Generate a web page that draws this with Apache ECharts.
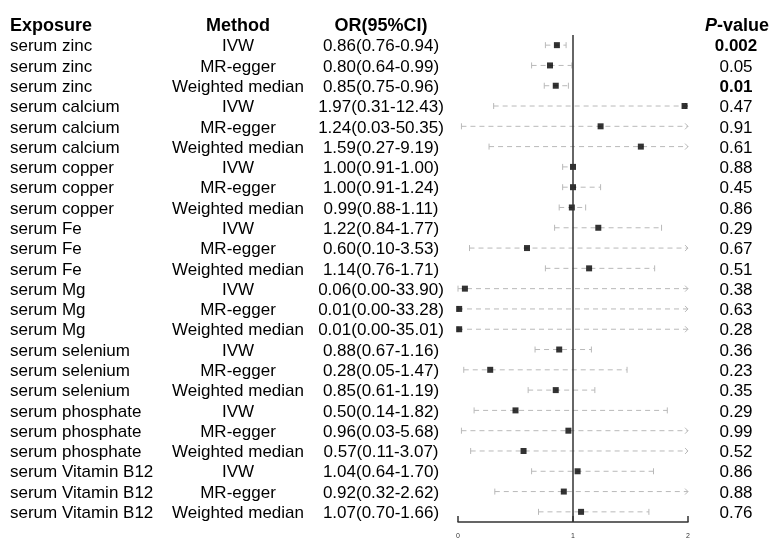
<!DOCTYPE html>
<html>
<head>
<meta charset="utf-8">
<script src="https://cdn.jsdelivr.net/npm/echarts@6/dist/echarts.min.js"></script>
<style>
  html, body { margin: 0; padding: 0; background: #fff; }
  #chart { width: 769px; height: 540px; }
</style>
</head>
<body>
<div id="chart"></div>
<script>
// table data, one entry per row (top to bottom)
const exposures = [
  'serum zinc', 'serum zinc', 'serum zinc',
  'serum calcium', 'serum calcium', 'serum calcium',
  'serum copper', 'serum copper', 'serum copper',
  'serum Fe', 'serum Fe', 'serum Fe',
  'serum Mg', 'serum Mg', 'serum Mg',
  'serum selenium', 'serum selenium', 'serum selenium',
  'serum phosphate', 'serum phosphate', 'serum phosphate',
  'serum Vitamin B12', 'serum Vitamin B12', 'serum Vitamin B12'
]
const methods = [
  'IVW', 'MR-egger', 'Weighted median',
  'IVW', 'MR-egger', 'Weighted median',
  'IVW', 'MR-egger', 'Weighted median',
  'IVW', 'MR-egger', 'Weighted median',
  'IVW', 'MR-egger', 'Weighted median',
  'IVW', 'MR-egger', 'Weighted median',
  'IVW', 'MR-egger', 'Weighted median',
  'IVW', 'MR-egger', 'Weighted median'
]
const orValues = [0.86, 0.80, 0.85, 1.97, 1.24, 1.59, 1.00, 1.00, 0.99, 1.22, 0.60, 1.14,
  0.06, 0.01, 0.01, 0.88, 0.28, 0.85, 0.50, 0.96, 0.57, 1.04, 0.92, 1.07]
const ciLower = [0.76, 0.64, 0.75, 0.31, 0.03, 0.27, 0.91, 0.91, 0.88, 0.84, 0.10, 0.76,
  0.00, 0.00, 0.00, 0.67, 0.05, 0.61, 0.14, 0.03, 0.11, 0.64, 0.32, 0.70]
const ciUpper = [0.94, 0.99, 0.96, 12.43, 50.35, 9.19, 1.00, 1.24, 1.11, 1.77, 3.53, 1.71,
  33.90, 33.28, 35.01, 1.16, 1.47, 1.19, 1.82, 5.68, 3.07, 1.70, 2.62, 1.66]
const pValues = ['0.002', '0.05', '0.01', '0.47', '0.91', '0.61', '0.88', '0.45', '0.86',
  '0.29', '0.67', '0.51', '0.38', '0.63', '0.28', '0.36', '0.23', '0.35', '0.29', '0.99',
  '0.52', '0.86', '0.88', '0.76']
const headers = ['Exposure', 'Method', 'OR(95%CI)', 'P-value']
const xTicks = [0, 1, 2]

const font = '"Liberation Sans", Arial, Helvetica, sans-serif'
const xMin = xTicks[0]
const xMax = xTicks[xTicks.length - 1]
const nRows = exposures.length
const gray = '#b9b9b9'

// column anchors (px)
const colExposure = 10
const colMethod = 238
const colOr = 381
const colP = 736
const textNudge = 1.5

function orText(i) {
  return orValues[i].toFixed(2) + '(' + ciLower[i].toFixed(2) + '-' + ciUpper[i].toFixed(2) + ')'
}

function renderTable(params, api) {
  const row = api.value(1)
  const y = api.coord([xMin, row])[1] + textNudge
  if (row < 0) {
    const head = { fontFamily: font, fontSize: 18, fontWeight: 'bold', fill: '#000', verticalAlign: 'middle' }
    return {
      type: 'group',
      children: [
        { type: 'text', style: Object.assign({ x: colExposure, y: y, text: headers[0], align: 'left' }, head) },
        { type: 'text', style: Object.assign({ x: colMethod, y: y, text: headers[1], align: 'center' }, head) },
        { type: 'text', style: Object.assign({ x: colOr, y: y, text: headers[2], align: 'center' }, head) },
        {
          type: 'text',
          style: Object.assign({
            x: colP + 1, y: y, align: 'center',
            text: '{i|P}{b|-value}',
            rich: {
              i: { fontFamily: font, fontSize: 18, fontWeight: 'bold', fontStyle: 'italic', fill: '#000' },
              b: { fontFamily: font, fontSize: 18, fontWeight: 'bold', fill: '#000' }
            }
          }, head)
        }
      ]
    }
  }
  const body = { fontFamily: font, fontSize: 17, fill: '#000', verticalAlign: 'middle' }
  const sig = Number(pValues[row]) < 0.05
  return {
    type: 'group',
    children: [
      { type: 'text', style: Object.assign({ x: colExposure, y: y, text: exposures[row], align: 'left' }, body) },
      { type: 'text', style: Object.assign({ x: colMethod, y: y, text: methods[row], align: 'center' }, body) },
      { type: 'text', style: Object.assign({ x: colOr, y: y, text: orText(row), align: 'center' }, body) },
      { type: 'text', style: Object.assign({ x: colP, y: y, text: pValues[row], align: 'center', fontWeight: sig ? 'bold' : 'normal' }, body) }
    ]
  }
}

function renderCI(params, api) {
  const lo = api.value(0)
  const hi = api.value(1)
  const row = api.value(2)
  const a = api.coord([Math.max(lo, xMin), row])
  const b = api.coord([Math.min(hi, xMax), row])
  const ls = { stroke: gray, lineWidth: 1 }
  const kids = [
    { type: 'line', shape: { x1: a[0], y1: a[1], x2: b[0], y2: b[1] }, style: Object.assign({ lineDash: [5, 4] }, ls) },
    { type: 'line', shape: { x1: a[0], y1: a[1] - 3, x2: a[0], y2: a[1] + 3 }, style: ls }
  ]
  if (hi > xMax) {
    kids.push({ type: 'polyline', shape: { points: [[b[0] - 3, b[1] - 3], [b[0], b[1]], [b[0] - 3, b[1] + 3]] }, style: Object.assign({ fill: null }, ls) })
  } else {
    kids.push({ type: 'line', shape: { x1: b[0], y1: b[1] - 3, x2: b[0], y2: b[1] + 3 }, style: ls })
  }
  return { type: 'group', children: kids }
}

const tableRows = [[xMin, -1]].concat(exposures.map((e, i) => [xMin, i]))
const ciData = ciLower.map((lo, i) => [lo, ciUpper[i], i])
const pointData = orValues.map((v, i) => [v, i])

const chart = echarts.init(document.getElementById('chart'))
chart.setOption({
  animation: false,
  backgroundColor: '#fff',
  grid: { left: 458, top: 35, width: 230, height: 488, containLabel: false },
  xAxis: {
    type: 'value', min: xMin, max: xMax, interval: 1,
    axisLine: { show: true, onZero: false, lineStyle: { color: '#333', width: 1.5 } },
    axisTick: { show: true, inside: true, length: 6, lineStyle: { color: '#333', width: 1.5 } },
    axisLabel: { fontSize: 7, color: '#333', margin: 11, fontFamily: font },
    splitLine: { show: false }
  },
  yAxis: { type: 'value', min: -0.5, max: nRows - 0.5, inverse: true, show: false },
  series: [
    {
      type: 'custom', renderItem: renderCI, data: ciData, z: 2, silent: true,
      encode: { x: [0, 1], y: 2 }
    },
    {
      type: 'scatter', data: pointData, symbol: 'rect', symbolSize: 6, z: 4,
      itemStyle: { color: '#000' }, silent: true,
      markLine: {
        silent: true, symbol: 'none', label: { show: false },
        lineStyle: { color: '#333', width: 1.5, type: 'solid' },
        data: [{ xAxis: 1 }]
      }
    },
    {
      type: 'custom', renderItem: renderTable, data: tableRows, z: 5, silent: true,
      encode: { x: 0, y: 1 }
    }
  ]
})
</script>
</body>
</html>
